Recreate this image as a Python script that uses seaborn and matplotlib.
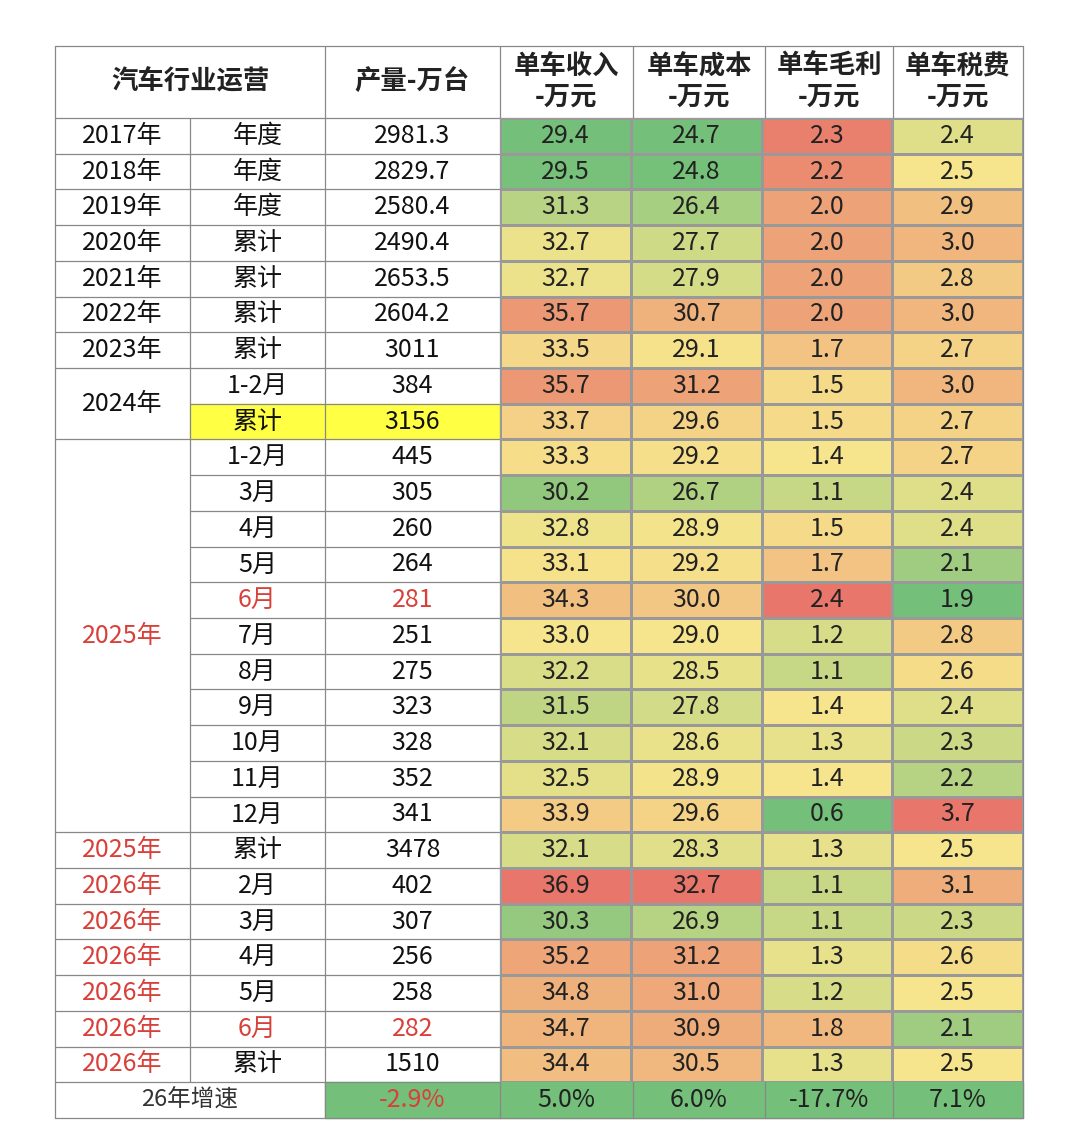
import numpy as np
import pandas as pd
import seaborn as sns
import matplotlib.pyplot as plt
from matplotlib.colors import LinearSegmentedColormap
from matplotlib.patches import Rectangle

sns.set_theme(style="white")
plt.rcParams['font.family'] = ['Noto Sans CJK SC', 'DejaVu Sans']

years = ["2017年", "2018年", "2019年", "2020年", "2021年", "2022年", "2023年",
         "2024年", "2024年"] + ["2025年"] * 11 + ["2025年"] + ["2026年"] * 6
periods = ["年度", "年度", "年度", "累计", "累计", "累计", "累计", "1-2月", "累计",
           "1-2月", "3月", "4月", "5月", "6月", "7月", "8月", "9月", "10月", "11月", "12月",
           "累计", "2月", "3月", "4月", "5月", "6月", "累计"]
production = ["2981.3", "2829.7", "2580.4", "2490.4", "2653.5", "2604.2", "3011", "384", "3156",
              "445", "305", "260", "264", "281", "251", "275", "323", "328", "352", "341",
              "3478", "402", "307", "256", "258", "282", "1510"]
revenue = [29.4, 29.5, 31.3, 32.7, 32.7, 35.7, 33.5, 35.7, 33.7, 33.3, 30.2, 32.8, 33.1, 34.3,
           33.0, 32.2, 31.5, 32.1, 32.5, 33.9, 32.1, 36.9, 30.3, 35.2, 34.8, 34.7, 34.4]
cost = [24.7, 24.8, 26.4, 27.7, 27.9, 30.7, 29.1, 31.2, 29.6, 29.2, 26.7, 28.9, 29.2, 30.0,
        29.0, 28.5, 27.8, 28.6, 28.9, 29.6, 28.3, 32.7, 26.9, 31.2, 31.0, 30.9, 30.5]
margin = [2.3, 2.2, 2.0, 2.0, 2.0, 2.0, 1.7, 1.5, 1.5, 1.4, 1.1, 1.5, 1.7, 2.4,
          1.2, 1.1, 1.4, 1.3, 1.4, 0.6, 1.3, 1.1, 1.1, 1.3, 1.2, 1.8, 1.3]
tax = [2.4, 2.5, 2.9, 3.0, 2.8, 3.0, 2.7, 3.0, 2.7, 2.7, 2.4, 2.4, 2.1, 1.9,
       2.8, 2.6, 2.4, 2.3, 2.2, 3.7, 2.5, 3.1, 2.3, 2.6, 2.5, 2.1, 2.5]
growth_label = "26年增速"
growth = ["-2.9%", "5.0%", "6.0%", "-17.7%", "7.1%"]
headers = ["单车收入\n-万元", "单车成本\n-万元", "单车毛利\n-万元", "单车税费\n-万元"]

W, H = 1080, 1142
xe = [55, 190, 325, 500, 633, 765, 893, 1023]
top, hb, bottom = 46, 118, 1118
nrows = len(years) + 1
rh = (bottom - hb) / nrows
red = "#d9403a"
fs = 18
fw = "medium"

fig = plt.figure(figsize=(W / 100, H / 100), dpi=100)
ax = fig.add_axes([0, 0, 1, 1])
ax.set_xlim(0, W)
ax.set_ylim(H, 0)
ax.axis("off")

# heatmap of the four per-car columns
df = pd.DataFrame({"rev": revenue, "cost": cost, "margin": margin, "tax": tax})


def scale(col):
    med = col.median()
    lo, hi = col.min(), col.max()
    return np.where(col <= med, 0.5 * (col - lo) / (med - lo), 0.5 + 0.5 * (col - med) / (hi - med))


norm = df.apply(scale)
cmap = LinearSegmentedColormap.from_list("rg", ["#74c07a", "#f6e58c", "#e8766a"])
hax = fig.add_axes([xe[3] / W, 1 - (hb + rh * len(years)) / H,
                    (xe[7] - xe[3]) / W, rh * len(years) / H])
sns.heatmap(norm, ax=hax, cmap=cmap, vmin=0, vmax=1, cbar=False,
            annot=df.map(lambda v: f"{v:.1f}"), fmt="", linewidths=0.8, linecolor="#999999",
            annot_kws={"fontsize": fs, "color": "#222222", "fontweight": fw})
hax.set_xticks([])
hax.set_yticks([])

# header
hkw = dict(ha="center", va="center", fontsize=fs + 1, fontweight="bold", color="#222222")
ax.text((xe[0] + xe[2]) / 2, (top + hb) / 2, "汽车行业运营", **hkw)
ax.text((xe[2] + xe[3]) / 2, (top + hb) / 2, "产量-万台", **hkw)
for i, h in enumerate(headers):
    ax.text((xe[3 + i] + xe[4 + i]) / 2, (top + hb) / 2, h, linespacing=1.15, **hkw)

tkw = dict(ha="center", va="center", fontsize=fs, fontweight=fw)


def yc(r):
    return hb + rh * (r + 0.5)


for r, (y, p, v) in enumerate(zip(years, periods, production)):
    is_red = p == "6月" and y in ("2025年", "2026年")
    col = red if is_red else "#111111"
    if r >= 20:
        ax.text((xe[0] + xe[1]) / 2, yc(r), y, color=red, **{**tkw, "fontweight": "normal"})
    elif r < 7:
        ax.text((xe[0] + xe[1]) / 2, yc(r), y, color="#111111", **tkw)
    if r == 8:
        ax.add_patch(Rectangle((xe[1], hb + rh * r), xe[3] - xe[1], rh, color="#ffff44", zorder=0))
    ax.text((xe[1] + xe[2]) / 2, yc(r), p, color=col, **tkw)
    ax.text((xe[2] + xe[3]) / 2, yc(r), v, color=col, **tkw)
ax.text((xe[0] + xe[1]) / 2, hb + rh * 8, "2024年", color="#111111", **tkw)
ax.text((xe[0] + xe[1]) / 2, hb + rh * 14.5, "2025年", color=red, **{**tkw, "fontweight": "normal"})

# growth row
gr = nrows - 1
ax.text((xe[0] + xe[2]) / 2, yc(gr), growth_label, ha="center", va="center", fontsize=fs - 1, color="#333333")
for i, g in enumerate(growth):
    ax.add_patch(Rectangle((xe[2 + i], hb + rh * gr), xe[3 + i] - xe[2 + i], rh, color="#74c07a", zorder=0))
    ax.text((xe[2 + i] + xe[3 + i]) / 2, yc(gr), g, color=red if i == 0 else "#222222", **tkw)

# grid lines
lc, lw = "#888888", 0.9
ax.plot([xe[0], xe[7]], [top, top], color=lc, lw=lw)
ax.plot([xe[0], xe[7]], [hb, hb], color=lc, lw=lw)
ax.plot([xe[0], xe[7]], [bottom, bottom], color=lc, lw=lw)
for r in range(1, nrows):
    y = hb + rh * r
    x0 = xe[0]
    if r == 8 or 10 <= r <= 19:
        x0 = xe[1]
    ax.plot([x0, xe[3]], [y, y], color=lc, lw=lw)
for i, x in enumerate(xe):
    if i == 1:
        ax.plot([x, x], [hb, hb + rh * (nrows - 1)], color=lc, lw=lw)
    else:
        ax.plot([x, x], [top, bottom], color=lc, lw=lw)

fig.savefig("out.png", dpi=100, facecolor="white")
